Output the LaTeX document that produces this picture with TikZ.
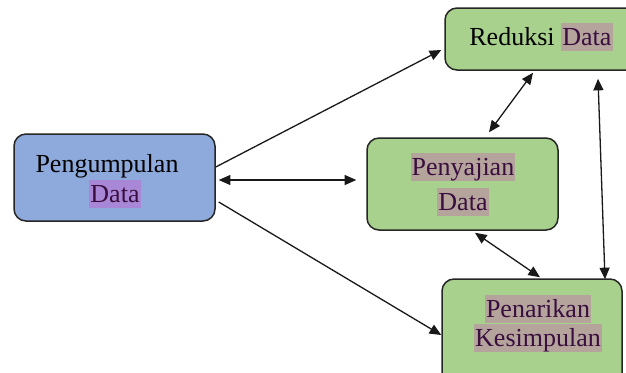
\documentclass[tikz,border=0pt]{standalone}
\usepackage{fontspec}
\setmainfont{Liberation Serif}
\usetikzlibrary{arrows.meta,calc}
\definecolor{boxblue}{RGB}{142,169,219}
\definecolor{boxgreen}{RGB}{169,209,142}
\definecolor{hlpurple}{RGB}{168,136,214}
\definecolor{hlgrey}{RGB}{180,164,156}
\definecolor{txtpurple}{RGB}{58,14,62}
\newcommand\myhl[2]{{\setlength\fboxsep{0pt}\colorbox{#1}{\kern0.6pt\color{txtpurple}\rule[-3pt]{0pt}{14pt}#2\kern0.6pt}}}
\begin{document}
\begin{tikzpicture}[x=0.5pt,y=-0.5pt,
  box/.style={draw=black!85,line width=0.75pt,rounded corners=6pt,inner sep=0pt},
  lbl/.style={anchor=base,inner sep=0pt,font=\fontsize{13pt}{15pt}\selectfont},
  conn/.style={line width=0.65pt,black!90},
  tipb/.style={{Triangle[length=5.8pt,width=5pt]}-{Triangle[length=5.8pt,width=5pt]}},
  tipe/.style={-{Triangle[length=5.8pt,width=5pt]}}]
\useasboundingbox (0,0) rectangle (626,372);
\clip (0,0) rectangle (626,372);
\fill[white] (0,0) rectangle (626,372);
% boxes
\node[box,fill=boxblue,minimum width=100.5pt,minimum height=43.5pt] (pk) at (114.5,177.5) {};
\node[box,fill=boxgreen,minimum width=97.5pt,minimum height=31pt] (rd) at (542.5,39) {};
\node[box,fill=boxgreen,minimum width=95.5pt,minimum height=46pt] (ps) at (462.5,184) {};
\node[box,fill=boxgreen,minimum width=90pt,minimum height=55.5pt] (pn) at (532,334.5) {};
% labels
\node[lbl] (pk1) at (107,172) {Pengumpulan};
\node[lbl] (pk2) at (115,202) {\myhl{hlpurple}{Data}};
\node[lbl] (rd1) at (541,45) {Reduksi \myhl{hlgrey}{Data}};
\node[lbl] (ps1) at (463,175) {\myhl{hlgrey}{Penyajian}};
\node[lbl] (ps2) at (463,210) {\myhl{hlgrey}{Data}};
\node[lbl] (pn1) at (538,317) {\myhl{hlgrey}{Penarikan}};
\node[lbl] (pn2) at (538,346) {\myhl{hlgrey}{Kesimpulan}};
% connectors
\draw[conn,tipe] ($(pk.east)+(0,-10.5)$) -- ($(rd.west)+(-3,11)$);
\draw[conn,tipb] ($(pk.east)+(3,2.5)$) -- ($(ps.west)+(-10,-4)$);
\draw[conn,tipe] ($(pk.east)+(3,24.5)$) -- ($(pn.west)+(0,0.5)$);
\draw[conn,tipb] ($(rd.south)+(-9.5,2)$) -- ($(ps.north)+(26.5,-5)$);
\draw[conn,tipb] ($(ps.south)+(12.5,2)$) -- ($(pn.north)+(8,-1)$);
\draw[conn,tipb] ($(rd.south)+(55.5,8)$) -- ($(pn.north)+(73,1)$);
\end{tikzpicture}
\end{document}
